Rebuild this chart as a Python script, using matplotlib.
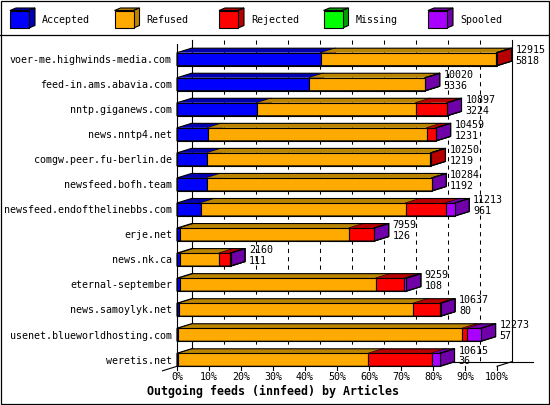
import matplotlib
matplotlib.use("Agg")
import matplotlib.pyplot as plt
from matplotlib.patches import Polygon, Rectangle

# feeds, top to bottom
feeds = ["voer-me.highwinds-media.com", "feed-in.ams.abavia.com", "nntp.giganews.com",
         "news.nntp4.net", "comgw.peer.fu-berlin.de", "newsfeed.bofh.team",
         "newsfeed.endofthelinebbs.com", "erje.net", "news.nk.ca", "eternal-september",
         "news.samoylyk.net", "usenet.blueworldhosting.com", "weretis.net"]
offered = [12915, 10020, 10897, 10459, 10250, 10284, 11213, 7959, 2160, 9259, 10637, 12273, 10615]
accepted = [5818, 5336, 3224, 1231, 1219, 1192, 961, 126, 111, 108, 80, 57, 36]
refused = [7067, 4670, 6409, 8846, 9011, 9082, 8269, 6816, 1584, 7911, 9458, 11459, 7686]
rejected = [30, 0, 1259, 372, 20, 0, 1615, 1010, 460, 1156, 1090, 202, 2557]
missing = [0] * 13
spooled = [0, 14, 5, 10, 0, 10, 368, 7, 5, 84, 9, 555, 336]

series = ["Accepted", "Refused", "Rejected", "Missing", "Spooled"]
front_col = ["#0000ff", "#ffaa00", "#ff0000", "#00ff00", "#aa00ff"]
dark_col = ["#0000b0", "#bb8500", "#b80000", "#00a000", "#7000a8"]

MONO = "DejaVu Sans Mono"
W, H = 550, 405
fig = plt.figure(figsize=(W / 100, H / 100), dpi=100)

# frame + legend strip, in pixel coords
bg = fig.add_axes([0, 0, 1, 1])
bg.set_xlim(0, W)
bg.set_ylim(H, 0)
bg.axis("off")
bg.add_patch(Rectangle((0.5, 0.5), W - 1.5, H - 1.5, fill=False, lw=0.9, ec="black"))
bg.plot([0, W], [35, 35], color="black", lw=0.9)
for i, name in enumerate(series):
    x0 = 10 + i * 104.5
    d, e = 6, 2.5
    bg.add_patch(Polygon([(x0, 10.5), (x0 + d, 10.5 - e), (x0 + 19 + d, 10.5 - e), (x0 + 19, 10.5)],
                         fc=dark_col[i], ec="black", lw=0.8))
    bg.add_patch(Polygon([(x0 + 19, 10.5), (x0 + 19 + d, 10.5 - e), (x0 + 19 + d, 28 - e), (x0 + 19, 28)],
                         fc=dark_col[i], ec="black", lw=0.8))
    bg.add_patch(Rectangle((x0, 10.5), 19, 17.5, fc=front_col[i], ec="black", lw=0.8))
    bg.text(x0 + 32, 20, name, family=MONO, fontsize=7.2, va="center", ha="left")

bg.text(273, 391, "Outgoing feeds (innfeed) by Articles", family=MONO, fontsize=8.4,
        fontweight="bold", ha="center", va="center")

# plot area: x in percent of the largest feed, y in rows
PXP = 3.2          # pixels per percent
ROW = 25.05        # pixels per row
left_px, right_px, top_px, bot_px = 177, 533, 40, 370
ax = fig.add_axes([left_px / W, 1 - bot_px / H, (right_px - left_px) / W, (bot_px - top_px) / H])
ax.set_xlim(0, (right_px - left_px) / PXP)
y_top = (top_px - 59.2) / ROW
ax.set_ylim((bot_px - 59.2) / ROW, y_top)
ax.axis("off")

DX = 14.5 / PXP
DY = 4.5 / ROW
HH = 6.5 / ROW
n = len(feeds)
floor = (n - 1) + HH
lk = dict(color="black", lw=0.8, clip_on=False)

# back wall grid
for k in range(1, 10):
    ax.plot([DX + 10 * k] * 2, [y_top, floor - DY], color="black", lw=0.75,
            linestyle=(0, (4, 4)), zorder=1, clip_on=False)
ax.plot([DX, DX], [y_top, floor - DY], zorder=1, **lk)
ax.plot([100 + DX] * 2, [y_top, floor - DY], zorder=1, **lk)
ax.plot([DX, ax.get_xlim()[1]], [floor - DY] * 2, zorder=1, **lk)
ax.plot([100, 100 + DX], [floor, floor - DY], zorder=1, **lk)
ax.plot([0, -DX], [floor, floor + DY], zorder=1, **lk)
ax.plot([0, 0], [y_top + DY, floor], zorder=1, **lk)

# x ticks
for k in range(11):
    ax.plot([10 * k] * 2, [floor, floor + 4 / ROW], **lk)
    ax.text(10 * k, (377 - 59.2) / ROW, f"{10 * k}%", family=MONO, fontsize=7.2,
            ha="center", va="center")

vmax = max(offered)
for r in range(n):
    counts = [accepted[r], refused[r], rejected[r], missing[r], spooled[r]]
    y0, y1 = r - HH, r + HH
    x = 0.0
    last = None
    for s, c in enumerate(counts):
        if c <= 0:
            continue
        w = c / vmax * 100
        ax.add_patch(Polygon([(x, y0), (x + DX, y0 - DY), (x + w + DX, y0 - DY), (x + w, y0)],
                             fc=dark_col[s], ec="none", zorder=3, clip_on=False))
        ax.add_patch(Polygon([(x + w, y0), (x + w + DX, y0 - DY), (x + w + DX, y1 - DY), (x + w, y1)],
                             fc=dark_col[s], ec="black", lw=0.8, zorder=3, clip_on=False))
        ax.add_patch(Rectangle((x, y0), w, 2 * HH, fc=front_col[s], ec="black", lw=0.8,
                               zorder=4, clip_on=False))
        x += w
        last = s
    ax.add_patch(Polygon([(0, y0), (DX, y0 - DY), (x + DX, y0 - DY), (x + DX, y1 - DY), (x, y1), (0, y1)],
                         fill=False, ec="black", lw=0.8, zorder=5, clip_on=False))
    ax.plot([x, x + DX], [y0, y0 - DY], zorder=5, **lk)

    ax.text(-5 / PXP, r + 0.03, feeds[r], family=MONO, fontsize=7.2, ha="right", va="center")
    tx = offered[r] / vmax * 100 + DX + 1.2
    ax.text(tx, r - HH - 0.11, str(offered[r]), family=MONO, fontsize=7.2, ha="left", va="center")
    ax.text(tx, r - HH + 0.32, str(accepted[r]), family=MONO, fontsize=7.2, ha="left", va="center")

fig.savefig("out.png", dpi=100)
